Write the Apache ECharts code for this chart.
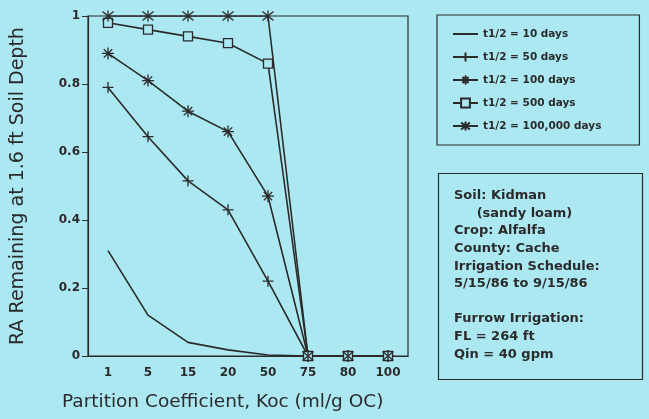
<!DOCTYPE html>
<html>
<head>
<meta charset="utf-8">
<script src="https://cdn.jsdelivr.net/npm/echarts@6/dist/echarts.min.js"></script>
<style>
  html, body { margin: 0; padding: 0; background: #abe8f1; }
  #chart { width: 649px; height: 419px; }
</style>
</head>
<body>
<div id="chart"></div>
<script>
// data
const koc = ['1', '5', '15', '20', '50', '75', '80', '100']
const half10 = [0.31, 0.12, 0.04, 0.018, 0.003, 0, 0, 0]
const half50 = [0.79, 0.645, 0.515, 0.43, 0.22, 0, 0, 0]
const half100 = [0.89, 0.81, 0.72, 0.66, 0.47, 0, 0, 0]
const half500 = [0.98, 0.96, 0.94, 0.92, 0.86, 0, 0, 0]
const half100k = [1, 1, 1, 1, 1, 0, 0, 0]
const seriesNames = ['t1/2 = 10 days', 't1/2 = 50 days', 't1/2 = 100 days', 't1/2 = 500 days', 't1/2 = 100,000 days']
const yTicks = [0, 0.2, 0.4, 0.6, 0.8, 1]

const bg = '#abe8f1'
const ink = '#2b2b2b'
const font = 'DejaVu Sans'

const infoLines = [
  'Soil: Kidman',
  '     (sandy loam)',
  'Crop: Alfalfa',
  'County: Cache',
  'Irrigation Schedule:',
  '5/15/86 to 9/15/86',
  '',
  'Furrow Irrigation:',
  'FL = 264 ft',
  'Qin = 40 gpm'
]

// marker shapes (the tiny vertical stubs keep the dash's box square)
const dashPath = 'path://M0,5L10,5M5,0L5,0.01M5,10L5,9.99'
const plusPath = 'path://M0,5L10,5M5,0L5,10'
const starPath = 'path://M0,5L10,5M5,0L5,10M1.5,1.5L8.5,8.5M8.5,1.5L1.5,8.5'
const barXPath = 'path://M1,1L9,9M9,1L1,9M5,0L5,10'

function makeSeries(name, data, symbol, size, show) {
  return {
    name: name,
    type: 'line',
    data: data,
    symbol: symbol,
    symbolSize: size,
    showSymbol: show,
    lineStyle: { color: ink, width: 1.6 },
    itemStyle: { color: symbol === 'rect' ? bg : ink, borderColor: ink, borderWidth: 1.3 },
    emphasis: { disabled: true },
    z: 3
  }
}

const myChart = echarts.init(document.getElementById('chart'))
myChart.setOption({
  backgroundColor: bg,
  animation: false,
  textStyle: { fontFamily: font },
  grid: {
    left: 88, top: 16, right: 241, bottom: 63,
    show: true, borderColor: ink, borderWidth: 1.2, backgroundColor: 'transparent'
  },
  legend: {
    orient: 'vertical',
    left: 437, top: 15,
    padding: [13.5, 38, 13.5, 15],
    itemWidth: 25, itemHeight: 11, itemGap: 12,
    borderColor: ink, borderWidth: 1.2,
    textStyle: { fontFamily: font, fontSize: 10.5, fontWeight: 'bold', color: ink },
    data: seriesNames
  },
  xAxis: {
    type: 'category',
    data: koc,
    boundaryGap: true,
    axisLine: { lineStyle: { color: ink, width: 1.2 } },
    axisTick: { alignWithLabel: true, length: 5, lineStyle: { color: ink } },
    axisLabel: { color: ink, fontSize: 12, fontWeight: 'bold', margin: 11 },
    splitLine: { show: false }
  },
  yAxis: {
    type: 'value',
    min: 0, max: 1, interval: 0.2,
    name: 'RA Remaining at 1.6 ft Soil Depth',
    nameLocation: 'middle',
    nameRotate: 90,
    nameGap: 60,
    nameTextStyle: { fontSize: 19, color: ink, fontFamily: font },
    axisLine: { show: true, lineStyle: { color: ink, width: 1.2 } },
    axisTick: { show: true, length: 6, lineStyle: { color: ink } },
    axisLabel: {
      color: ink, fontSize: 12, fontWeight: 'bold', margin: 8,
      formatter: v => yTicks.includes(+v.toFixed(1)) ? String(+v.toFixed(1)) : ''
    },
    splitLine: { show: false }
  },
  graphic: [
    {
      type: 'text', left: 62, top: 393,
      style: { text: 'Partition Coefficient, Koc (ml/g OC)', fontSize: 18.5, fontFamily: font, fill: ink }
    },
    {
      type: 'rect', left: 436, top: 171,
      shape: { width: 204, height: 206 },
      style: { fill: 'none', stroke: ink, lineWidth: 1.2 }
    },
    {
      type: 'text', left: 454, top: 187,
      style: {
        text: infoLines.join('\n'), fontSize: 13, fontWeight: 'bold',
        fontFamily: font, fill: ink, lineHeight: 17.6
      }
    }
  ],
  series: [
    makeSeries(seriesNames[0], half10, dashPath, 10, false),
    makeSeries(seriesNames[1], half50, plusPath, 11, true),
    makeSeries(seriesNames[2], half100, starPath, 12, true),
    makeSeries(seriesNames[3], half500, 'rect', 9, true),
    makeSeries(seriesNames[4], half100k, barXPath, 11, true)
  ]
})
</script>
</body>
</html>
